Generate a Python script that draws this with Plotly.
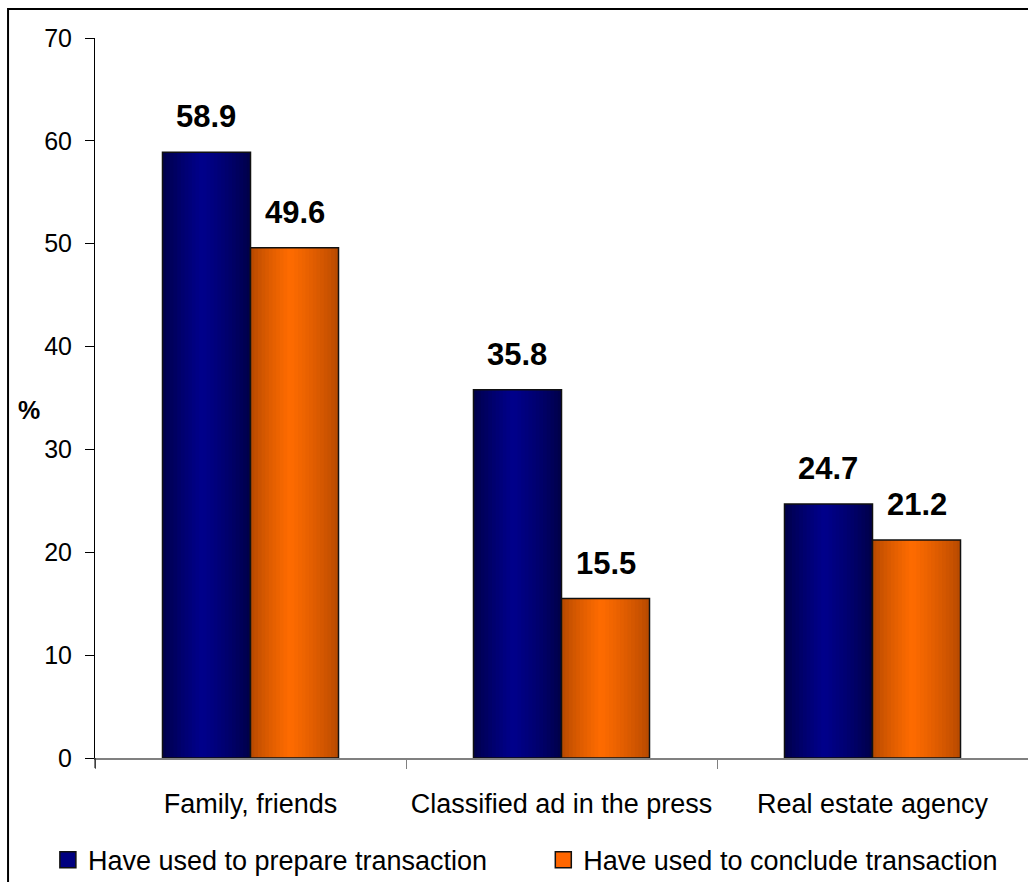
import plotly.graph_objects as go

# Survey data: share of respondents (%) by information channel
categories = ["Family, friends", "Classified ad in the press", "Real estate agency"]
prepare = [58.9, 35.8, 24.7]
conclude = [49.6, 15.5, 21.2]
series_names = ["Have used to prepare transaction", "Have used to conclude transaction"]
y_ticks = [0, 10, 20, 30, 40, 50, 60, 70]

FONT = "Liberation Sans, Arial, sans-serif"
BAR_W = 0.283          # width of one bar in category units
N_STRIPS = 24          # strips used to shade each bar horizontally


def shade(dark, bright, t, peak=0.45):
    """Cylinder-like shading: dark at the edges, bright near `peak`."""
    if t <= peak:
        f = (t / peak) ** 0.8
    else:
        f = ((1 - t) / (1 - peak)) ** 0.8
    c = [round(d + (b - d) * f) for d, b in zip(dark, bright)]
    return "rgb({},{},{})".format(*c)


series = [
    (prepare, -BAR_W, (0, 0, 70), (0, 0, 140), "#000080"),
    (conclude, 0.0, (180, 72, 0), (255, 108, 0), "#FF6600"),
]

fig = go.Figure()

for values, left, dark, bright, base in series:
    dw = BAR_W / N_STRIPS
    for k in range(N_STRIPS):
        t = (k + 0.5) / N_STRIPS
        fig.add_trace(go.Bar(
            x=categories, y=values,
            offset=left + k * dw, width=BAR_W - k * dw,
            marker=dict(color=shade(dark, bright, t), line=dict(width=0)),
            showlegend=False, hoverinfo="skip",
        ))
    # outline on top of the shaded strips
    fig.add_trace(go.Bar(
        x=categories, y=values, offset=left, width=BAR_W,
        marker=dict(color="rgba(0,0,0,0)", line=dict(color="#111111", width=1.5)),
        showlegend=False, hoverinfo="skip",
    ))

# legend entries, one legend box per series
for name, (_, _, _, _, base), leg in zip(series_names, series, ["legend", "legend2"]):
    fig.add_trace(go.Scatter(
        x=[None], y=[None], mode="markers", name=name, legend=leg,
        marker=dict(symbol="square", size=16, color=base,
                    line=dict(color="#111111", width=1.5)),
    ))

# value labels above each bar
annotations = []
for values, left, *_ in series:
    for i, v in enumerate(values):
        annotations.append(dict(
            x=i + left + BAR_W / 2, y=v, xref="x", yref="y",
            text=f"<b>{v:.1f}</b>", showarrow=False,
            yanchor="bottom", yshift=16,
            font=dict(family=FONT, size=31, color="#000000"),
        ))

annotations.append(dict(
    x=-0.0707, y=0.483, xref="paper", yref="paper", text="<b>%</b>",
    showarrow=False, xanchor="center", yanchor="middle",
    font=dict(family=FONT, size=25, color="#000000"),
))

legend_style = dict(
    orientation="h", yanchor="top", xanchor="left", y=-0.108,
    font=dict(family=FONT, size=27, color="#000000"),
    bgcolor="rgba(0,0,0,0)",
)

fig.update_layout(
    width=1028, height=882,
    margin=dict(l=95, r=0, t=38, b=124, autoexpand=False),
    paper_bgcolor="white", plot_bgcolor="white",
    barmode="overlay",
    font=dict(family=FONT, color="#000000"),
    showlegend=True,
    legend=dict(x=-0.0505, **legend_style),
    legend2=dict(x=0.4805, **legend_style),
    annotations=annotations,
    shapes=[
        # outer chart frame
        dict(type="rect", xref="paper", yref="paper",
             x0=-0.0932, x1=1.2, y0=-0.3, y1=1.0403,
             line=dict(color="#000000", width=2), layer="below"),
        # y axis line continues a little below the category axis
        dict(type="line", xref="paper", yref="paper",
             x0=0, x1=0, y0=0, y1=-0.014,
             line=dict(color="#000000", width=1)),
    ],
)

fig.update_xaxes(
    type="category", range=[-0.5, 2.5],
    showline=True, linecolor="#808080", linewidth=2,
    ticks="outside", tickson="boundaries", ticklen=9, tickcolor="#808080",
    tickfont=dict(family=FONT, size=27, color="#000000"),
    tickangle=0, ticklabelstandoff=21, automargin=False,
    showgrid=False, zeroline=False,
)

fig.update_yaxes(
    range=[0, 70], tickvals=y_ticks,
    showline=True, linecolor="#000000", linewidth=1,
    ticks="outside", ticklen=9, tickcolor="#000000",
    tickfont=dict(family=FONT, size=25, color="#000000"),
    ticklabelstandoff=8, automargin=False,
    showgrid=False, zeroline=False,
)

fig.write_html("out.html")
